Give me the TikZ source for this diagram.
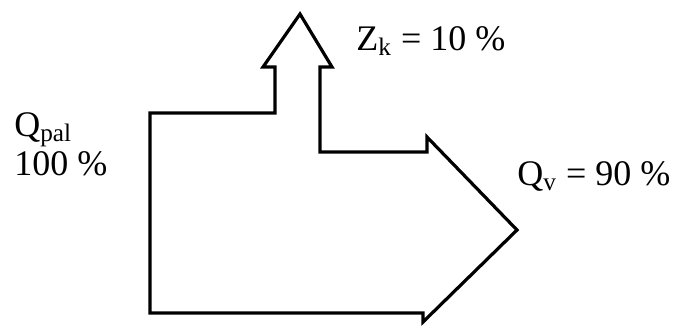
\documentclass[tikz,border=0pt]{standalone}
\usepackage{fontspec}
\setmainfont{Liberation Serif}

\begin{document}
\begin{tikzpicture}[x=0.5pt,y=-0.5pt,inner sep=0pt,
  flowline/.style={line width=1.6pt,line join=miter},
  flowlabel/.style={anchor=base west,font=\fontsize{18}{21}\selectfont}]
  \useasboundingbox (0,0) rectangle (678,327);
  % outline of the flow
  \draw[flowline](150,313)--(150,113)--(275,113)--(275,67)--(263,67)--(300,14)--(332,67)--(320,67)
    --(320,152)--(427,152)--(427,137)--(517,230)--(423,322)--(423,313)--cycle;
  % labels
  \node[flowlabel] (qpal) at (14,136) {Q\textsubscript{pal}};
  \node[flowlabel] (qpalval) at (14,175) {100 \%};
  \node[flowlabel] (zk) at (356,50) {Z\textsubscript{k} = 10 \%};
  \node[flowlabel] (qv) at (517,185) {Q\textsubscript{v} = 90 \%};
\end{tikzpicture}
\end{document}
